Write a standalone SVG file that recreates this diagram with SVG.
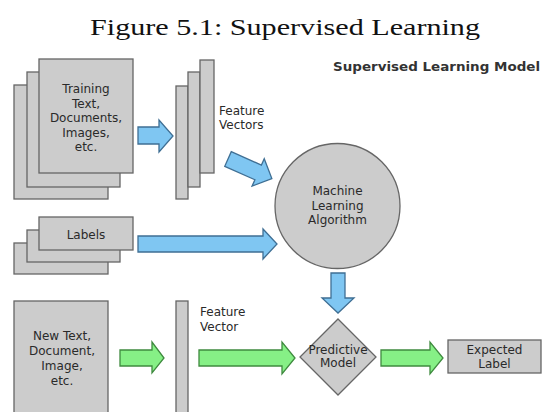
<svg xmlns="http://www.w3.org/2000/svg" width="543" height="412" viewBox="0 0 543 412">
<defs>
<style>
.box{fill:#cccccc;stroke:#666666;stroke-width:1.3}
.t{font-family:"DejaVu Sans",Verdana,sans-serif;font-size:12px;fill:#2a2a2a;text-anchor:middle}
.tl{font-family:"DejaVu Sans",Verdana,sans-serif;font-size:12px;fill:#2a2a2a}
.blue{fill:#7fc6f2;stroke:#3f6f94;stroke-width:1.3;stroke-linejoin:miter}
.green{fill:#86f086;stroke:#3f8a3f;stroke-width:1.3}
</style>
</defs>
<rect width="543" height="412" fill="#ffffff"/>
<text x="285" y="35" font-family="'Liberation Serif',serif" font-size="24" fill="#111111" text-anchor="middle" textLength="390" lengthAdjust="spacingAndGlyphs">Figure 5.1: Supervised Learning</text>
<text x="333" y="71" font-family="'DejaVu Sans',sans-serif" font-size="13" font-weight="bold" fill="#333333" textLength="207" lengthAdjust="spacingAndGlyphs">Supervised Learning Model</text>

<g id="training-docs">
<rect class="box" x="14" y="85" width="94" height="114"/>
<rect class="box" x="27" y="72" width="93" height="115"/>
<rect class="box" x="39" y="59" width="94" height="114"/>
<text class="t" x="86" y="93">Training</text>
<text class="t" x="86" y="107.5">Text,</text>
<text class="t" x="86" y="122">Documents,</text>
<text class="t" x="86" y="136.5">Images,</text>
<text class="t" x="86" y="151">etc.</text>
</g>

<g id="feature-vectors">
<rect class="box" x="176" y="86" width="12" height="113"/>
<rect class="box" x="188" y="72" width="12" height="115"/>
<rect class="box" x="200" y="60" width="14" height="113"/>
<text class="tl" x="219" y="115">Feature</text>
<text class="tl" x="219" y="129">Vectors</text>
</g>

<g id="ml-algorithm">
<circle class="box" cx="337.5" cy="206" r="62.5"/>
<text class="t" x="337.5" y="195">Machine</text>
<text class="t" x="337.5" y="210">Learning</text>
<text class="t" x="337.5" y="224">Algorithm</text>
</g>

<g id="labels">
<rect class="box" x="14" y="243" width="94" height="31"/>
<rect class="box" x="27" y="230" width="93" height="32"/>
<rect class="box" x="39" y="217" width="94" height="33"/>
<text class="t" x="86" y="239">Labels</text>
</g>

<g id="new-text">
<rect class="box" x="14" y="301" width="94" height="120"/>
<text class="t" x="62" y="340">New Text,</text>
<text class="t" x="62" y="355">Document,</text>
<text class="t" x="62" y="370">Image,</text>
<text class="t" x="62" y="385">etc.</text>
</g>

<g id="feature-vector">
<rect class="box" x="176" y="301" width="12" height="120"/>
<text class="tl" x="200" y="316">Feature</text>
<text class="tl" x="200" y="331">Vector</text>
</g>

<g id="predictive-model">
<polygon class="box" points="338,319 376,357 338,395 300,357"/>
<text class="t" x="338" y="354" font-size="9">Predictive</text>
<text class="t" x="338" y="367" font-size="9">Model</text>
</g>

<g id="expected-label">
<rect class="box" x="448" y="340" width="93" height="33"/>
<text class="t" x="494.5" y="354">Expected</text>
<text class="t" x="494.5" y="368">Label</text>
</g>

<g id="connectors">
<polygon class="blue" points="138,127 159,127 159,120 173,136 159,152 159,144 138,144"/>
<polygon class="blue" transform="translate(228,159) rotate(24)" points="0,-8 33,-8 33,-15 48,0 33,15 33,8 0,8"/>
<polygon class="blue" points="138,236 263,236 263,229 277,244 263,259 263,252 138,252"/>
<polygon class="blue" points="331,273 345,273 345,298 354,298 338,313 322,298 331,298"/>
<polygon class="green" points="120,350 152,350 152,342 164,358 152,373 152,366 120,366"/>
<polygon class="green" points="199,350 282,350 282,342 295,358 282,374 282,366 199,366"/>
<polygon class="green" points="381,350 430,350 430,342 443,358 430,374 430,366 381,366"/>
</g>
</svg>
